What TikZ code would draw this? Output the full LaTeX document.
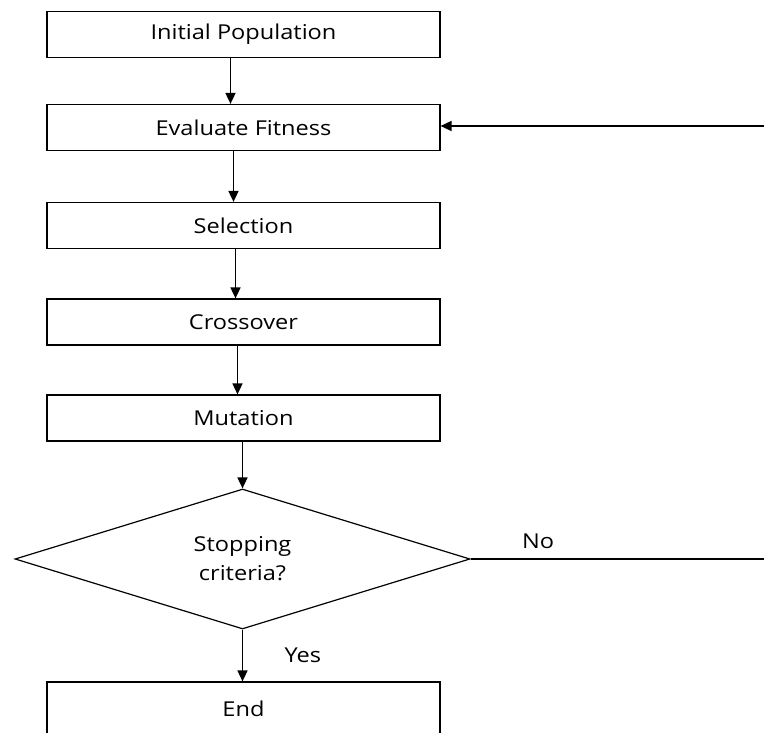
\documentclass[tikz,border=0pt]{standalone}
\usepackage{fontspec}
\setmainfont{Open Sans}[FakeStretch=1.15]
\usetikzlibrary{shapes.geometric,arrows.meta,positioning}

\begin{document}
\begin{tikzpicture}[x=1pt,y=-1pt,
    box/.style = {draw, line width=1.2pt, minimum width=393pt, minimum height=46pt, inner sep=0pt, font=\fontsize{20.5}{24}\selectfont},
    decision/.style = {draw, line width=1.2pt, diamond, minimum width=455pt, minimum height=140pt, inner sep=0pt, aspect=3.25, align=center, font=\fontsize{20.5}{29}\selectfont},
    flow/.style = {line width=1.6pt, -{Triangle[width=10pt,length=11pt]}},
    lbl/.style = {font=\fontsize{20.5}{24}\selectfont}]

      \useasboundingbox (0,0) rectangle (764,733);
      \clip (0,0) rectangle (764,733);

      % Main steps of the loop
      \node[box] (init) at (243.5,34.5) {Initial Population};
      \node[box] (eval) at (243.5,127.5) {Evaluate Fitness};
      \node[box] (sel) at (243.5,225.5) {Selection};
      \node[box] (cross) at (243.5,322) {Crossover};
      \node[box] (mut) at (243.5,418) {Mutation};
      \node[decision] (stop) at (242.5,559) {Stopping\\criteria?};
      \node[box, minimum height=100pt] (done) at (243.5,732) {};
      \node[lbl] at (243.5,709) {End};

      % Vertical arrows
      \draw[flow] ([xshift=-13pt]init.south) -- ([xshift=-13pt]eval.north);
      \draw[flow] ([xshift=-10pt]eval.south) -- ([xshift=-10pt]sel.north);
      \draw[flow] ([xshift=-8pt]sel.south) -- ([xshift=-8pt]cross.north);
      \draw[flow] ([xshift=-6pt]cross.south) -- ([xshift=-6pt]mut.north);
      \draw[flow] (stop.north |- mut.south) -- (stop.north);
      \draw[flow] (stop.south) -- (stop.south |- done.north)
            node[lbl, midway, right=38pt] {Yes};

      % Loop back (leaves the picture on the right)
      \coordinate (backTop) at (764,126);
      \coordinate (backLow) at (764,559);
      \draw[line width=1.2pt] (stop.east) -- (backLow) node[lbl, pos=0.23, above=6pt] {No};
      \draw[flow] (backTop) -- (eval.east |- backTop);

\end{tikzpicture}
\end{document}
